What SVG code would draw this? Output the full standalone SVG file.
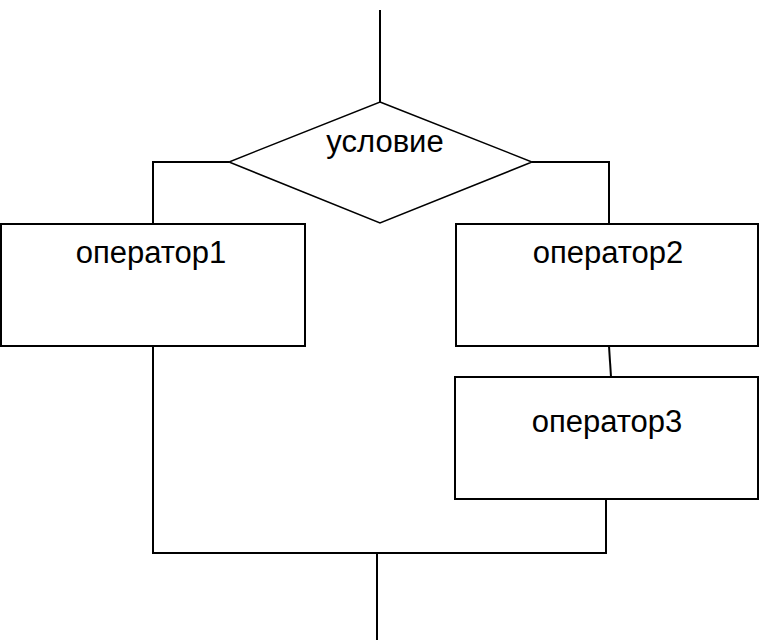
<svg xmlns="http://www.w3.org/2000/svg" width="759" height="640" viewBox="0 0 759 640">
<style>
.shape{fill:#fff;stroke:#000;stroke-width:2}
.dia{fill:#fff;stroke:#000;stroke-width:1.5}
.conn{fill:none;stroke:#000;stroke-width:2}
text{font-family:"Liberation Sans",Arial,sans-serif;font-size:31px;fill:#000;text-anchor:middle}
</style>
<rect width="759" height="640" fill="#fff"/>
<g id="connectors">
<line class="conn" x1="380" y1="10" x2="380" y2="102"/>
<polyline class="conn" points="229,162 153,162 153,224"/>
<polyline class="conn" points="532,162 609,162 609,224"/>
<line class="conn" x1="609" y1="346" x2="611" y2="377"/>
<polyline class="conn" points="153,346 153,553 606,553 606,499"/>
<line class="conn" x1="377" y1="553" x2="377" y2="640"/>
</g>
<g id="condition">
<polygon class="dia" points="380,102 532,162 380,223 229,162"/>
<text x="385" y="152">условие</text>
</g>
<g id="op1">
<rect class="shape" x="1" y="224" width="304" height="122"/>
<text x="151" y="263">оператор1</text>
</g>
<g id="op2">
<rect class="shape" x="456" y="224" width="302" height="122"/>
<text x="608" y="263">оператор2</text>
</g>
<g id="op3">
<rect class="shape" x="455" y="377" width="303" height="122"/>
<text x="607" y="432">оператор3</text>
</g>
</svg>
